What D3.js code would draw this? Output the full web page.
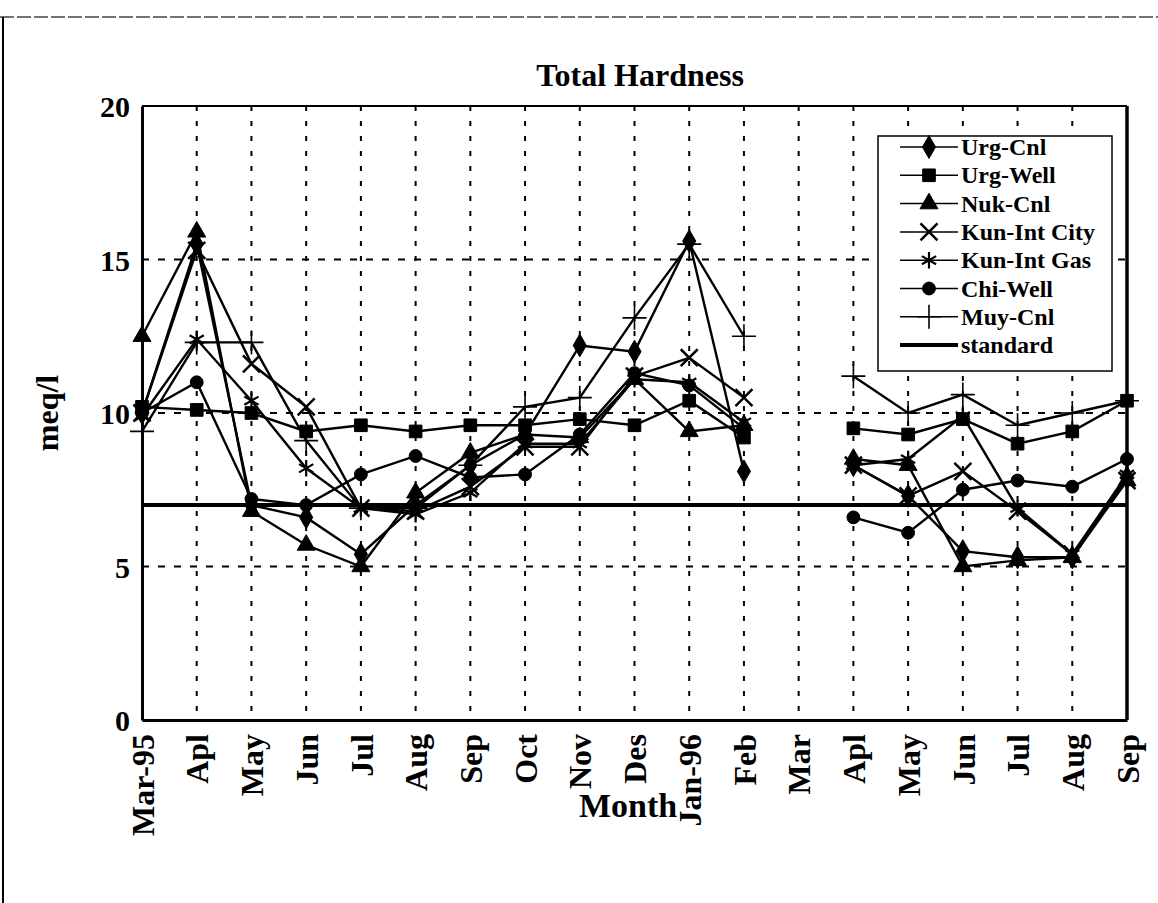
<!DOCTYPE html>
<html><head><meta charset="utf-8">
<script src="https://cdn.jsdelivr.net/npm/d3@7"></script>
<style>body{margin:0;background:#fff;} svg{display:block;} text{font-family:"Liberation Serif","Times New Roman",serif;font-weight:bold;fill:#000;}</style>
</head><body><svg id="c" width="1158" height="903"></svg>
<script>
const months = ["Mar-95","Apl","May","Jun","Jul","Aug","Sep","Oct","Nov","Des","Jan-96","Feb","Mar","Apl","May","Jun","Jul","Aug","Sep"];
const yTicks = [0,5,10,15,20];
const standardValue = 7;
const urgCnl  = [10.0,15.5,7.0,6.6,5.4,7.0,8.3,9.3,12.2,12.0,15.6,8.1,null,8.3,7.3,5.5,5.3,5.3,7.9];
const urgWell = [10.2,10.1,10.0,9.4,9.6,9.4,9.6,9.6,9.8,9.6,10.4,9.2,null,9.5,9.3,9.8,9.0,9.4,10.4];
const nukCnl  = [12.5,15.9,6.8,5.7,5.0,7.4,8.7,9.3,9.2,11.1,9.4,9.6,null,8.5,8.3,5.0,5.2,5.3,7.8];
const kunCity = [10.0,15.3,11.6,10.2,6.9,6.8,7.6,8.9,8.9,11.2,11.8,10.5,null,8.3,7.3,8.1,6.8,5.4,7.8];
const kunGas  = [9.9,12.4,10.4,8.2,6.9,6.7,7.4,9.0,9.0,11.1,11.0,9.7,null,8.3,8.5,9.9,6.9,5.4,8.0];
const chiWell = [10.0,11.0,7.2,7.0,8.0,8.6,7.9,8.0,9.3,11.3,10.9,9.5,null,6.6,6.1,7.5,7.8,7.6,8.5];
const muyCnl  = [9.4,12.3,12.3,9.1,6.9,6.9,8.3,10.2,10.5,13.1,15.5,12.5,null,11.2,10.0,10.6,9.6,10.0,10.4];
const seriesNames = ["Urg-Cnl","Urg-Well","Nuk-Cnl","Kun-Int City","Kun-Int Gas","Chi-Well","Muy-Cnl"];
const seriesValues = [urgCnl,urgWell,nukCnl,kunCity,kunGas,chiWell,muyCnl];

const svg = d3.select("#c");
const L=142,R=1127,T=106,B=720;
const x = d3.scalePoint().domain(d3.range(months.length)).range([L,R]);
const y = d3.scaleLinear().domain([0,20]).range([B,T]);

// page frame
svg.append("line").attr("x1",0).attr("x2",1158).attr("y1",17).attr("y2",17).attr("stroke","#444").attr("stroke-width",1.5).attr("stroke-dasharray","14,3");
svg.append("line").attr("x1",3).attr("x2",3).attr("y1",17).attr("y2",903).attr("stroke","#000").attr("stroke-width",2);

// grid
const g = svg.append("g");
g.selectAll(".vg").data(d3.range(1,months.length-1)).join("line")
 .attr("x1",d=>x(d)).attr("x2",d=>x(d)).attr("y1",T).attr("y2",B)
 .attr("stroke","#000").attr("stroke-width",2).attr("stroke-dasharray","5,10");
g.selectAll(".hg").data(yTicks.filter(v=>v>0&&v<20)).join("line")
 .attr("x1",L).attr("x2",R).attr("y1",d=>y(d)).attr("y2",d=>y(d))
 .attr("stroke","#000").attr("stroke-width",2).attr("stroke-dasharray","7,9");

// axes / frame
const yAxis = d3.axisLeft(y).tickValues(yTicks).tickSize(0).tickPadding(10);
const ya = svg.append("g").attr("transform",`translate(${L},0)`).call(yAxis);
ya.select(".domain").attr("stroke-width",3);
ya.selectAll("text").style("font-size","30px").attr("dy","0.35em").attr("x",-12);
const xAxis = d3.axisBottom(x).tickSize(0).tickFormat(i=>months[i]);
const xa = svg.append("g").attr("transform",`translate(0,${B})`).call(xAxis);
xa.select(".domain").attr("stroke-width",3);
xa.selectAll("text").style("font-size","32px").attr("text-anchor","end")
 .attr("transform","rotate(-90)").attr("x",-14).attr("y",0).attr("dy","0.35em");
svg.append("line").attr("x1",L).attr("x2",R).attr("y1",T).attr("y2",T).attr("stroke","#000").attr("stroke-width",2);
svg.append("line").attr("x1",R).attr("x2",R).attr("y1",T).attr("y2",B).attr("stroke","#000").attr("stroke-width",3.5);

// standard line
svg.append("line").attr("x1",L).attr("x2",R).attr("y1",y(standardValue)).attr("y2",y(standardValue)).attr("stroke","#000").attr("stroke-width",4);

const symbols = [
 {t:d3.symbolDiamond,s:150,fill:true},
 {t:d3.symbolSquare,s:160,fill:true},
 {t:d3.symbolTriangle,s:140,fill:true},
 {t:d3.symbolTimes,s:190,fill:false,w:2.5},
 {t:d3.symbolAsterisk,s:190,fill:false,w:2.2},
 {t:d3.symbolCircle,s:130,fill:true},
 {t:d3.symbolPlus,s:190,fill:false,w:1.6}
];
const line = d3.line().defined(d=>d!=null).x((d,i)=>x(i)).y(d=>y(d));
seriesValues.forEach((vals,k)=>{
  svg.append("path").datum(vals).attr("d",line).attr("fill","none").attr("stroke","#000").attr("stroke-width",2.4);
});
seriesValues.forEach((vals,k)=>{
  const sy = symbols[k];
  svg.append("g").selectAll("path").data(vals.map((v,i)=>({v,i})).filter(d=>d.v!=null)).join("path")
   .attr("transform",d=>`translate(${x(d.i)},${y(d.v)})`)
   .attr("d",d3.symbol(sy.t,sy.s))
   .attr("fill",sy.fill?"#000":"none").attr("stroke","#000").attr("stroke-width",sy.fill?1:sy.w);
});

// legend
const lg = svg.append("g");
lg.append("rect").attr("x",878).attr("y",136).attr("width",234).attr("height",235).attr("fill","#fff").attr("stroke","#000").attr("stroke-width",1.5);
const legNames = seriesNames.concat(["standard"]);
legNames.forEach((n,i)=>{
  const ry = 147 + i*28.3;
  if(i<7){
    lg.append("line").attr("x1",900).attr("x2",958).attr("y1",ry).attr("y2",ry).attr("stroke","#000").attr("stroke-width",1.5);
    const sy = symbols[i];
    lg.append("path").attr("transform",`translate(929,${ry})`).attr("d",d3.symbol(sy.t,sy.s))
      .attr("fill",sy.fill?"#000":"none").attr("stroke","#000").attr("stroke-width",sy.fill?1:sy.w);
  } else {
    lg.append("line").attr("x1",900).attr("x2",958).attr("y1",ry).attr("y2",ry).attr("stroke","#000").attr("stroke-width",4);
  }
  lg.append("text").attr("x",961).attr("y",ry+8).style("font-size","24px").text(n);
});

// titles
svg.append("text").attr("x",640).attr("y",86).attr("text-anchor","middle").style("font-size","32px").text("Total Hardness");
svg.append("text").attr("x",628).attr("y",817).attr("text-anchor","middle").style("font-size","34px").text("Month");
svg.append("text").attr("transform","translate(58,413) rotate(-90)").attr("text-anchor","middle").style("font-size","32px").text("meq/l");
</script></body></html>
